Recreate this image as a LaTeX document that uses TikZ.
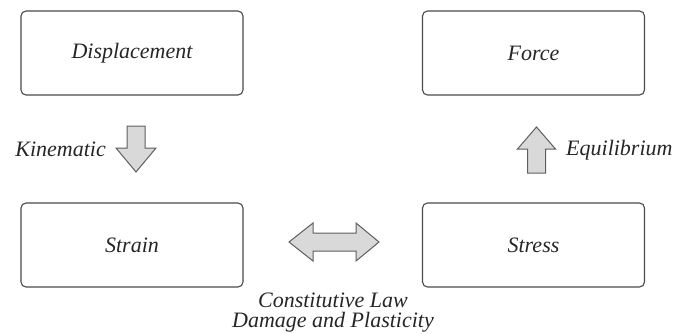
\documentclass[tikz,border=0pt]{standalone}
\usepackage{fontspec}
\setmainfont{Liberation Serif}
\definecolor{boxline}{HTML}{4A4A4A}
\definecolor{arrline}{HTML}{5E5E5E}
\definecolor{arrfill}{HTML}{D9D9D9}
\begin{document}
\begin{tikzpicture}[x=1pt,y=-1pt,
  box/.style={draw=boxline,line width=1.1pt,rounded corners=5pt,fill=white,
    minimum width=222pt,minimum height=84pt,inner sep=0pt,
    font=\fontsize{22}{26}\selectfont\itshape,text=black!85},
  lbl/.style={inner sep=0pt,font=\fontsize{22}{26}\selectfont\itshape,text=black!85},
  blockarrow/.style={draw=arrline,line width=1pt,fill=arrfill,line join=miter}]
\useasboundingbox (0,0) rectangle (689,333);
% boxes
\node[box] (disp)   at (132,53)   {Displacement};
\node[box] (force)  at (533.5,53) {Force};
\node[box] (strain) at (132,245)  {Strain};
\node[box] (stress) at (533.5,245){Stress};
% down arrow (kinematic)
\draw[blockarrow] (127,126) -- (145,126) -- (145,148) -- (156,148) -- (136,172)
  -- (116,148) -- (127,148) -- cycle;
\node[lbl,anchor=east] (kin) at (106,149) {Kinematic};
% up arrow (equilibrium)
\draw[blockarrow] (536.5,127) -- (555.5,149) -- (545.5,149) -- (545.5,173)
  -- (527.5,173) -- (527.5,149) -- (517.5,149) -- cycle;
\node[lbl,anchor=west] (equ) at (566,150) {Equilibrium};
% double arrow (constitutive)
\draw[blockarrow] (289,242) -- (313,223) -- (313,233) -- (356,233) -- (356,223)
  -- (379,242) -- (356,261) -- (356,251) -- (313,251) -- (313,261) -- cycle;
\node[lbl] (const) at (333,300) {Constitutive Law};
\node[lbl] (damage) at (333,322) {Damage and Plasticity};
\end{tikzpicture}
\end{document}
